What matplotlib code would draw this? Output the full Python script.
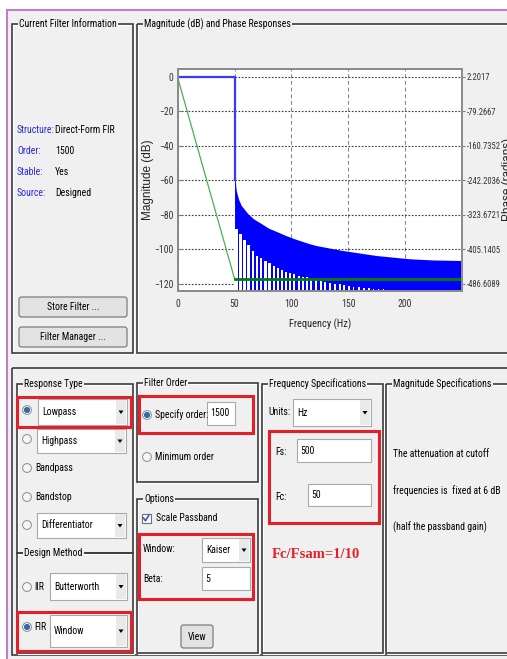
import matplotlib
matplotlib.use("Agg")
import matplotlib.pyplot as plt
from matplotlib import font_manager as fm
from matplotlib.patches import Rectangle, Circle, FancyBboxPatch, Polygon

# ---- chart data ----
freq_ticks = [0, 50, 100, 150, 200]
mag_ticks = [0, -20, -40, -60, -80, -100, -120]
phase_ticks = [2.2017, -79.2667, -160.7352, -242.2036, -323.6721, -405.1405, -486.6089]

passband_freq = [0, 50, 50]
passband_db = [0, 0, -60]

# upper envelope of the stopband ripple
env_freq = [50.0, 50.6, 51.4, 53.5, 55.8, 61.7, 67.0, 73.3, 80.0, 88.0, 95.0,
            102.6, 116.0, 121.6, 145.0, 174.6, 203.8, 225.0, 250.0]
env_db = [-60.0, -60.0, -65.8, -71.0, -74.5, -79.4, -82.5, -85.0, -87.8, -90.0, -92.0,
          -93.9, -96.8, -97.8, -100.7, -103.6, -105.5, -106.2, -106.5]

# white gaps between the sidelobes (nulls) and how high they reach
null_freq = [51.5, 55.2, 58.7, 62.2, 66.1, 69.8, 73.3, 77.2, 80.7, 84.5, 88.0, 91.8,
             95.3, 99.1, 102.6, 106.4, 110.2, 113.7, 117.5, 121.5, 125.7, 129.8, 133.6,
             138.0, 142.4, 146.5, 150.5, 154.6, 159.3, 163.7, 168.0, 172.2, 176.6, 181.0]
null_top = [-88.0, -91.0, -94.9, -97.8, -100.7, -103.6, -104.9, -106.5, -108.0, -109.4,
            -110.7, -111.9, -112.9, -113.9, -114.6, -115.4, -115.8, -116.2, -117.1, -117.7,
            -118.3, -118.9, -119.4, -120.0, -120.4, -120.8, -121.2, -121.6, -122.0, -122.3,
            -122.7, -122.9, -123.1, -123.3]
null_width = [2.6, 2.5, 2.4, 2.4, 2.3, 2.3, 2.2, 2.2, 2.1, 2.1, 2.0, 2.0, 2.0, 1.9,
              1.9, 1.9, 1.8, 1.8, 1.8, 1.7, 1.7, 1.7, 1.6, 1.6, 1.6, 1.5, 1.5, 1.5,
              1.4, 1.4, 1.4, 1.3, 1.3, 1.3]

phase_freq = [0, 50, 250]
phase_rad = [0.0, -475.0, -475.0]

filter_info = [("Structure:", "Direct-Form FIR"), ("Order:", "1500"),
               ("Stable:", "Yes"), ("Source:", "Designed")]
spec_note = ["The attenuation at cutoff", "frequencies is  fixed at 6 dB",
             "(half the passband gain)"]

BG = "#f0f0f0"
FRAME = "#3c3c3c"
RED = "#e21f2a"

# the GUI font in the screenshot is squeezed: use a narrow face if one is installed
fonts = fm.fontManager.ttflist
names = {f.name for f in fonts}
FS = 7
narrow = next((n for n in ["Liberation Sans Narrow", "Roboto Condensed", "Open Sans Condensed",
                           "Noto Sans Condensed", "DejaVu Sans Condensed", "Arial Narrow"]
               if n in names), None)
if narrow:
    plt.rcParams["font.family"] = [narrow, "DejaVu Sans"]
else:
    cond = next((f.name for f in fonts if f.stretch in ("condensed", "semi-condensed",
                 "extra-condensed") and f.name in ("DejaVu Sans", "Noto Sans", "Open Sans",
                                                     "Roboto", "Inter", "Liberation Sans")), None)
    if cond:
        plt.rcParams["font.family"] = [cond, "DejaVu Sans"]
        plt.rcParams["font.stretch"] = "condensed"
    else:
        plt.rcParams["font.family"] = ["Liberation Sans", "DejaVu Sans"]
        FS = 6.2
WIDE = ["Liberation Sans", "DejaVu Sans"]

fig = plt.figure(figsize=(5.07, 6.59), dpi=100)
fig.patch.set_facecolor("white")

# GUI layer in pixel coordinates (y goes down)
g = fig.add_axes([0, 0, 1, 1])
g.set_xlim(0, 507)
g.set_ylim(659, 0)
g.axis("off")

g.add_patch(Rectangle((7, 10), 500, 649, fc=BG, ec="none"))
g.plot([7, 507], [10, 10], color="#c080c8", lw=1.5)
g.plot([7, 7], [10, 659], color="#c080c8", lw=1.5)


def panel(x0, y0, x1, y1, title=None):
    g.add_patch(Rectangle((x0 + 1, y0 + 1), x1 - x0, y1 - y0, fill=False, ec="white", lw=0.8))
    g.add_patch(Rectangle((x0, y0), x1 - x0, y1 - y0, fill=False, ec=FRAME, lw=1.2))
    if title:
        g.text(x0 + 7, y0, title, va="center", ha="left", fontsize=FS,
               bbox=dict(boxstyle="square,pad=0.12", fc=BG, ec="none"))


def dropdown(x0, y0, x1, y1, text):
    h = y1 - y0
    g.add_patch(Rectangle((x0, y0), x1 - x0, h, fc="white", ec="#a9a9a9", lw=0.8))
    g.add_patch(Rectangle((x1 - 11, y0 + 1), 10, h - 2, fc="#e9e9e9", ec="none"))
    cx, cy = x1 - 6, y0 + h / 2
    g.add_patch(Polygon([(cx - 2.5, cy - 1.5), (cx + 2.5, cy - 1.5), (cx, cy + 2)],
                        closed=True, fc="black", ec="none"))
    g.text(x0 + 4, cy, text, va="center", ha="left", fontsize=FS)


def textbox(x0, y0, x1, y1, text):
    g.add_patch(Rectangle((x0, y0), x1 - x0, y1 - y0, fc="white", ec="#a9a9a9", lw=0.8))
    g.text(x0 + 3, (y0 + y1) / 2, text, va="center", ha="left", fontsize=FS)


def radio(x, y, on=False):
    g.add_patch(Circle((x, y), 4.4, fc="#f6f6f6", ec="#8c8c8c", lw=0.7))
    if on:
        g.add_patch(Circle((x, y), 2.6, fc="#2d6cb4", ec="#1b4e8c", lw=0.5))


def checkbox(x, y):
    g.add_patch(Rectangle((x - 4.5, y - 4.5), 9, 9, fc="white", ec="#6f6f6f", lw=0.8))
    g.plot([x - 2.5, x - 0.5, x + 3], [y, y + 2.8, y - 3.2], color="#3a5fb8", lw=1.2)


def button(x0, y0, x1, y1, text):
    g.add_patch(FancyBboxPatch((x0, y0), x1 - x0, y1 - y0,
                               boxstyle="round,pad=0,rounding_size=2.5",
                               fc="#e3e3e3", ec="#707070", lw=0.8))
    g.text((x0 + x1) / 2, (y0 + y1) / 2, text, va="center", ha="center", fontsize=FS)


def redbox(x0, y0, x1, y1):
    g.add_patch(Rectangle((x0, y0), x1 - x0, y1 - y0, fill=False, ec=RED, lw=2.2, zorder=5))


# ---- top panels ----
panel(12, 24, 133, 353, "Current Filter Information")
panel(137, 24, 512, 353, "Magnitude (dB) and Phase Responses")
for i, (k, v) in enumerate(filter_info):
    y = 130 + i * 21
    g.text(17, y, k, color="#2a2ad8", fontsize=FS, va="center")
    g.text(55, y, v, color="black", fontsize=FS, va="center")
button(19, 297, 127, 317, "Store Filter ...")
button(19, 327, 127, 347, "Filter Manager ...")

# ---- bottom area ----
g.add_patch(Rectangle((12, 368), 500, 287, fill=False, ec=FRAME, lw=1.2))

panel(17, 384, 133, 553, "Response Type")
panel(17, 553, 133, 653, "Design Method")
radio(27, 410, True)
dropdown(38, 399, 127, 425, "Lowpass")
redbox(17, 397, 131, 427)
radio(27, 439)
dropdown(37, 429, 126, 453, "Highpass")
radio(27, 468)
g.text(35, 468, "Bandpass", fontsize=FS, va="center")
radio(27, 497)
g.text(35, 497, "Bandstop", fontsize=FS, va="center")
radio(27, 525)
dropdown(37, 513, 126, 538, "Differentiator")
radio(27, 587)
g.text(34, 587, "IIR", fontsize=FS, va="center")
dropdown(50, 573, 127, 600, "Butterworth")
radio(27, 627, True)
g.text(34, 627, "FIR", fontsize=FS, va="center")
dropdown(50, 615, 127, 647, "Window")
redbox(17, 612, 131, 651)

panel(137, 383, 258, 482, "Filter Order")
radio(147, 415, True)
g.text(155, 415, "Specify order:", fontsize=FS, va="center")
textbox(207, 402, 235, 425, "1500")
redbox(139, 396, 253, 433)
radio(147, 457)
g.text(155, 457, "Minimum order", fontsize=FS, va="center")

panel(137, 499, 258, 653, "Options")
checkbox(146, 518)
g.text(156, 518, "Scale Passband", fontsize=FS, va="center")
g.text(143, 549, "Window:", fontsize=FS, va="center")
dropdown(202, 538, 250, 562, "Kaiser")
g.text(143, 579, "Beta:", fontsize=FS, va="center")
textbox(202, 567, 250, 590, "5")
redbox(139, 534, 253, 599)
button(181, 625, 213, 648, "View")

panel(262, 384, 383, 653, "Frequency Specifications")
g.text(268, 412, "Units:", fontsize=FS, va="center")
dropdown(293, 399, 371, 426, "Hz")
g.text(275, 452, "Fs:", fontsize=FS, va="center")
textbox(297, 439, 371, 462, "500")
g.text(275, 497, "Fc:", fontsize=FS, va="center")
textbox(308, 484, 371, 506, "50")
redbox(269, 431, 379, 523)
g.text(272, 555, "Fc/Fsam=1/10", color=RED, fontsize=10.5, fontweight="bold",
       family=["Liberation Serif", "DejaVu Serif"], fontstretch="normal", va="center")

panel(386, 384, 512, 653, "Magnitude Specifications")
for i, line in enumerate(spec_note):
    g.text(393, 454 + i * 36.5, line, fontsize=FS, va="center")

# ---- magnitude / phase plot ----
W, H = 507.0, 659.0
ax = fig.add_axes([177.7 / W, 1 - 290.7 / H, (462 - 177.7) / W, (290.7 - 69) / H])
ax.set_facecolor("white")
ax.set_xlim(0, 250)
ax.set_ylim(-124, 4.5)
ax.set_axisbelow(True)

ax.fill_between(env_freq, env_db, -130, color="#0000ff", lw=0)
ax.bar(null_freq, [t + 130 for t in null_top], bottom=-130, width=null_width,
       color="white", lw=0, zorder=2.1)
ax.plot(passband_freq, passband_db, color="#3b3bff", lw=1.6, zorder=3)

ax.set_xticks(freq_ticks)
ax.set_yticks(mag_ticks)
ax.yaxis.grid(True, ls=(0, (1.5, 1.5)), color="#3a3a3a", lw=0.8)
ax.xaxis.grid(True, ls=(0, (3.5, 2.5)), color="#8a8a8a", lw=0.8)
ax.tick_params(direction="in", length=3, color="#808080", labelsize=FS, labelcolor="#333333")
ax.tick_params(axis="x", pad=6)
ax.tick_params(axis="y", pad=3)
ax.set_xlabel("Frequency (Hz)", fontsize=FS + 0.5, color="#222222")
ax.xaxis.set_label_coords(0.5, -0.125)
ax.set_ylabel("Magnitude (dB)", fontsize=8.5, color="#222222", family=WIDE,
              fontstretch="normal")
ax.yaxis.set_label_coords(-0.085, 0.5)

ax2 = ax.twinx()
scale = (phase_ticks[0] - phase_ticks[-1]) / (mag_ticks[0] - mag_ticks[-1])
lo, hi = ax.get_ylim()
ax2.set_ylim(phase_ticks[0] + scale * lo, phase_ticks[0] + scale * hi)
ax2.set_yticks(phase_ticks)
ax2.set_yticklabels([f"{p:.4f}" for p in phase_ticks])
ax2.tick_params(direction="out", length=2, color="#808080", labelsize=FS - 0.8,
                labelcolor="#333333", pad=1.2)
ax2.plot(phase_freq[:2], phase_rad[:2], color="#4cb04c", lw=0.9)
ax2.plot(phase_freq[1:], phase_rad[1:], color="#008000", lw=2.0)
ax2.set_ylabel("Phase (radians)", fontsize=8.5, color="#222222", family=WIDE,
               fontstretch="normal")
ax2.yaxis.set_label_coords(1.139, 0.5)

for a in (ax, ax2):
    for s in a.spines.values():
        s.set_color("#8c8c8c")
        s.set_linewidth(1.4)

fig.savefig("out.png", dpi=100, facecolor=fig.get_facecolor())
